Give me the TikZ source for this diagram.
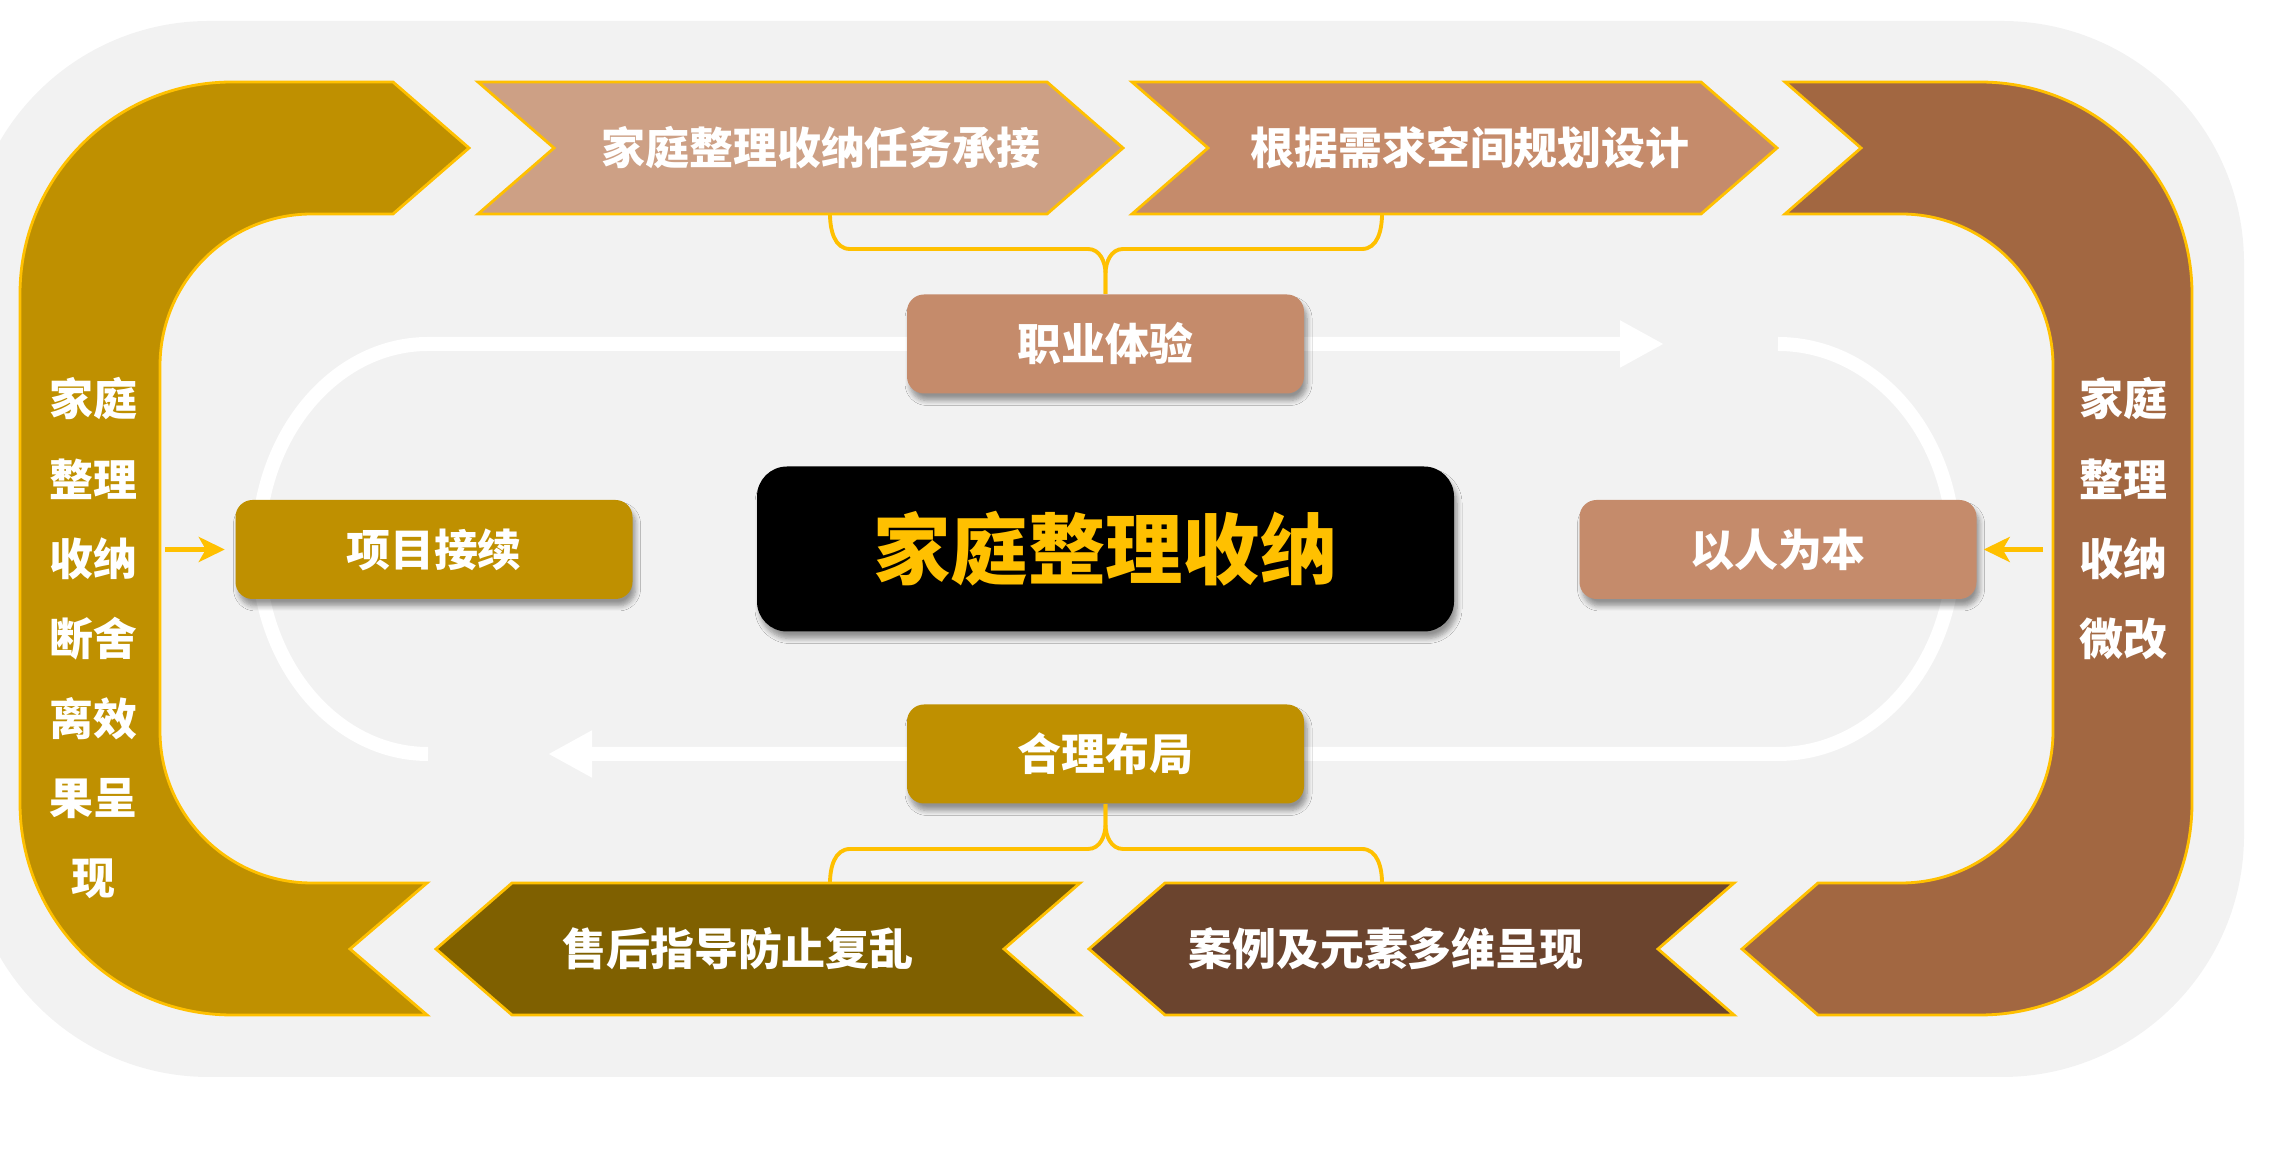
\documentclass[tikz,border=0pt]{standalone}
\usepackage{fontspec}
\setmainfont{Noto Sans CJK SC}
\usetikzlibrary{arrows.meta,shadows.blur}

\definecolor{bggray}{HTML}{F2F2F2}
\definecolor{gold}{HTML}{BF9000}
\definecolor{darkgold}{HTML}{7F6000}
\definecolor{rust}{HTML}{A26741}
\definecolor{clay}{HTML}{C58B6B}
\definecolor{sand}{HTML}{CDA085}
\definecolor{cocoa}{HTML}{6B442E}
\definecolor{amber}{HTML}{FFC000}

\tikzset{
  band/.style={draw=amber, line width=0.8pt},
  ctext/.style={text=white, inner sep=0pt, font=\bfseries\fontsize{12.5}{15}\selectfont},
  softshadow/.style={blur shadow={shadow xshift=0.03cm, shadow yshift=-0.07cm,
    shadow blur radius=0.05cm, shadow blur steps=6, shadow opacity=40}},
  box/.style={rounded corners=0.17cm, minimum width=3.97cm, minimum height=0.99cm,
    text=white, font=\bfseries\fontsize{12.5}{15}\selectfont, softshadow},
  runway/.style={white, line width=0.14cm, -{Triangle[length=0.44cm,width=0.44cm]}},
  brace/.style={amber, line width=1.1pt},
  pointer/.style={amber, line width=0.05cm, -{Stealth[length=0.26cm,width=0.25cm,inset=0.07cm]}}
}

\begin{document}
\begin{tikzpicture}
    \useasboundingbox (0,0) rectangle (22.69,11.75);
    \clip (0,0) rectangle (22.69,11.75);
    \fill[bggray, rounded corners=2.42cm] (-0.33,0.98) rectangle (22.44,11.54);

    % left and right bands
    \draw[band, fill=gold] (3.93,10.93) -- (4.69,10.27) -- (3.93,9.61) -- (3.12,9.61)
        arc[start angle=90, end angle=180, radius=1.52] -- (1.60,4.44)
        arc[start angle=180, end angle=270, radius=1.52] -- (4.27,2.92) -- (3.50,2.26) -- (4.27,1.60) -- (2.32,1.60)
        arc[start angle=270, end angle=180, radius=2.12] -- (0.20,8.81)
        arc[start angle=180, end angle=90, radius=2.12] -- cycle;
    \draw[band, fill=rust] (17.85,10.93) -- (19.80,10.93)
        arc[start angle=90, end angle=0, radius=2.12] -- (21.92,3.72)
        arc[start angle=0, end angle=-90, radius=2.12] -- (18.18,1.60) -- (17.42,2.26) -- (18.18,2.92) -- (19.01,2.92)
        arc[start angle=-90, end angle=0, radius=1.52] -- (20.53,8.09)
        arc[start angle=0, end angle=90, radius=1.52] -- (17.85,9.61) -- (18.61,10.27) -- cycle;

    % chevrons
    \foreach \xa/\xb/\c in {4.78/10.47/sand, 11.32/17.01/clay}
        \draw[band, fill=\c] (\xa,10.93) -- (\xb,10.93) -- (\xb+0.76,10.27) -- (\xb,9.61)
            -- (\xa,9.61) -- (\xa+0.76,10.27) -- cycle;
    \foreach \xa/\xb/\c in {5.12/10.80/darkgold, 11.65/17.34/cocoa}
        \draw[band, fill=\c] (\xa,2.92) -- (\xb,2.92) -- (\xb-0.76,2.26) -- (\xb,1.60)
            -- (\xa,1.60) -- (\xa-0.76,2.26) -- cycle;
    \node[ctext] (t1) at (8.21,10.27) {家庭整理收纳任务承接};
    \node[ctext] (t2) at (14.70,10.27) {根据需求空间规划设计};
    \node[ctext] (b1) at (7.38,2.26) {售后指导防止复乱};
    \node[ctext] (b2) at (13.86,2.26) {案例及元素多维呈现};

    \foreach \t [count=\i] in {家庭,整理,收纳,断舍,离效,果呈,现}
        \node[ctext] (lv\i) at (0.93,{8.56-0.8*\i}) {\t};
    \foreach \t [count=\i] in {家庭,整理,收纳,微改}
        \node[ctext] (rv\i) at (21.23,{8.56-0.8*\i}) {\t};

    % white loop
    \coordinate (lend) at (4.28,4.21);
    \coordinate (ttip) at (16.64,8.31);
    \coordinate (rstart) at (17.78,8.31);
    \coordinate (btip) at (5.48,4.21);
    \draw[runway] (lend) arc[start angle=270, end angle=90, x radius=1.70, y radius=2.05] -- (ttip);
    \draw[runway] (rstart) arc[start angle=90, end angle=-90, x radius=1.76, y radius=2.05] -- (btip);

    \node[box, fill=clay] (zy) at (11.055,8.31) {职业体验};
    \node[box, fill=gold] (hl) at (11.055,4.21) {合理布局};
    \node[box, fill=gold] (xm) at (4.34,6.255) {项目接续};
    \node[box, fill=clay] (yr) at (17.78,6.255) {以人为本};
    \node[fill=black, rounded corners=0.3cm, minimum width=6.97cm, minimum height=1.65cm,
        text=amber, font=\bfseries\fontsize{22}{26}\selectfont, softshadow]
        (core) at (11.055,6.26) {家庭整理收纳};

    % braces
    \draw[brace] (8.30,9.61) to[out=-90,in=180] (8.50,9.26) -- (10.88,9.26)
        to[out=0,in=90] ([yshift=0.2cm]zy.north) -- (zy.north);
    \draw[brace] (13.82,9.61) to[out=-90,in=0] (13.62,9.26) -- (11.23,9.26)
        to[out=180,in=90] ([yshift=0.2cm]zy.north) -- (zy.north);
    \draw[brace] (hl.south) -- ([yshift=-0.2cm]hl.south) to[out=-90,in=0] (10.88,3.26)
        -- (8.50,3.26) to[out=180,in=90] (8.30,2.92);
    \draw[brace] (hl.south) -- ([yshift=-0.2cm]hl.south) to[out=-90,in=180] (11.23,3.26)
        -- (13.62,3.26) to[out=0,in=90] (13.82,2.92);

    \coordinate (lfoot) at (1.65,6.255);
    \coordinate (rfoot) at (20.43,6.255);
    \draw[pointer] (lfoot) -- ([xshift=-0.1cm]xm.west);
    \draw[pointer] (rfoot) -- ([xshift=0.065cm]yr.east);
\end{tikzpicture}
\end{document}
